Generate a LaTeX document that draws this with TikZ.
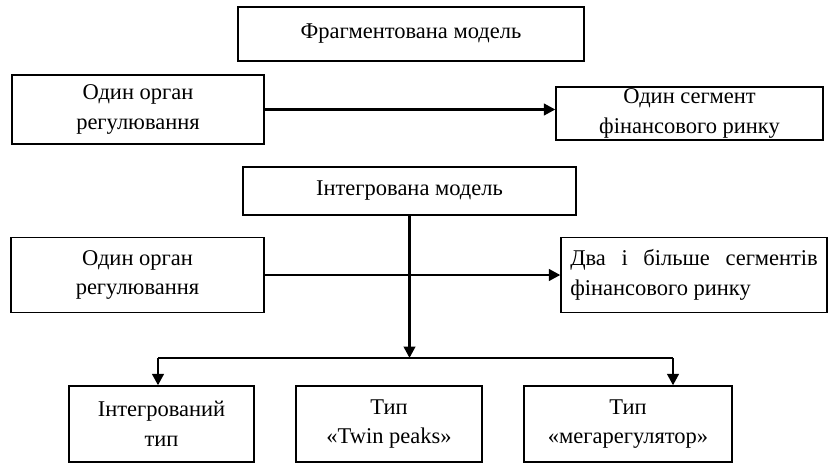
\documentclass[tikz,border=0pt]{standalone}
\usepackage{fontspec}
\setmainfont{Liberation Serif}
\usetikzlibrary{arrows.meta}

\begin{document}
\begin{tikzpicture}[
  blok/.style={draw, line width=0.75pt, inner sep=0pt, align=center,
    font=\fontsize{12.8}{17}\selectfont},
  strilka/.style={line width=1.5pt, -{Triangle[length=6.5pt,width=6.5pt]}}
]
\useasboundingbox (0, 0) rectangle (16.58, 9.26);
\node[blok, minimum width=6.92cm, minimum height=1.08cm] (frag)   at (8.22,  8.58) {Фрагментована модель};
\node[blok, minimum width=5.04cm, minimum height=1.38cm] (organA) at (2.76,  7.07) {Один орган\\регулювання};
\node[blok, minimum width=5.34cm, minimum height=1.06cm] (segA)   at (13.79, 6.99) {Один сегмент\\фінансового ринку};
\node[blok, minimum width=6.66cm, minimum height=0.96cm] (integr) at (8.19,  5.44) {Інтегрована модель};
\node[blok, minimum width=5.06cm, minimum height=1.50cm] (organB) at (2.75,  3.76) {Один орган\\регулювання};
\node[blok, minimum width=5.32cm, minimum height=1.50cm, text width=4.95cm, align=justify] (segB) at (13.88, 3.76) {Два і більше сегментів фінансового ринку};
\node[blok, minimum width=3.70cm, minimum height=1.52cm] (tipA)   at (3.23,  0.78) {Інтегрований\\тип};
\node[blok, minimum width=3.72cm, minimum height=1.52cm] (tipB)   at (7.78,  0.78) {Тип\\«Twin peaks»};
\node[blok, minimum width=4.16cm, minimum height=1.52cm] (tipC)   at (12.56, 0.78) {Тип\\«мегарегулятор»};
\coordinate (vuzol) at (integr.south |- 0, 2.1);
\coordinate (livyj) at (3.16,  2.1);
\coordinate (pravyj) at (13.46, 2.1);
\draw[strilka] (organA.east) -- (organA.east -| segA.west);
\draw[strilka] (organB) -- (segB);
\draw[strilka] (integr.south) -- (vuzol);
\draw[line width=0.6pt] (livyj) -- (pravyj);
\draw[strilka] (livyj) -- (livyj |- tipA.north);
\draw[strilka] (pravyj) -- (pravyj |- tipC.north);
\end{tikzpicture}
\end{document}
